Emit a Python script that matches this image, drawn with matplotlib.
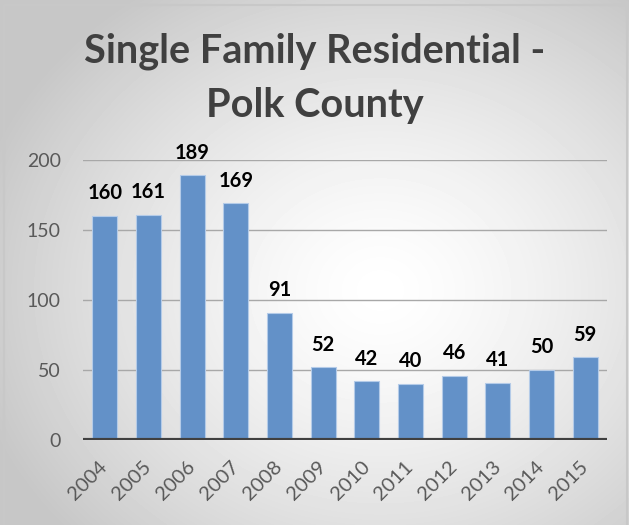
import matplotlib.pyplot as plt
import matplotlib.transforms as mtransforms
import numpy as np

plt.rcParams['font.family'] = ['Lato', 'DejaVu Sans']

years = ['2004', '2005', '2006', '2007', '2008', '2009',
         '2010', '2011', '2012', '2013', '2014', '2015']
permits = [160, 161, 189, 169, 91, 52, 42, 40, 46, 41, 50, 59]

fig = plt.figure(figsize=(6.29, 5.25), dpi=100)

# radial gradient background
bg = fig.add_axes([0, 0, 1, 1], zorder=0)
yy, xx = np.mgrid[0:525, 0:629]
r = np.sqrt(((xx - 380) / 420.0) ** 2 + ((yy - 290) / 360.0) ** 2)
shade = 1.0 - 0.22 * np.clip(r, 0, 1) ** 1.4
bg.imshow(shade, cmap='gray', vmin=0, vmax=1, extent=[0, 629, 525, 0], aspect='auto')
bg.plot([4, 4, 627, 627], [524, 5, 5, 524], color='#c8c8c8', lw=1.5)
bg.set_xlim(0, 629)
bg.set_ylim(525, 0)
bg.axis('off')

ax = fig.add_axes([83 / 629, 1 - 440 / 525, 524 / 629, 280 / 525], zorder=1)
ax.patch.set_alpha(0)
x = np.arange(len(years))
bars = ax.bar(x, permits, width=0.57, color='#6391c8', edgecolor='#b4cbe8', linewidth=0.8, zorder=2)

for xi, v in zip(x, permits):
    ax.text(xi, v + 9, str(v), ha='center', va='bottom', fontsize=14.5,
            fontweight='bold', color='black')

ax.set_xlim(-0.5, len(years) - 0.5)
ax.set_ylim(0, 200)
ax.set_yticks([0, 50, 100, 150, 200])
ax.yaxis.grid(True, color='#a8a8a8', linewidth=1)
ax.set_axisbelow(True)
ax.axhline(0, color='#404040', linewidth=3, zorder=3)
for s in ax.spines.values():
    s.set_visible(False)
ax.tick_params(length=0, labelsize=14, colors='#595959')
ax.tick_params(axis='y', pad=16)
ax.set_xticks(x)
ax.set_xticklabels(years, rotation=45, ha='right', rotation_mode='anchor', fontsize=14.5)
ax.tick_params(axis='x', pad=12)
shift = mtransforms.ScaledTranslation(-6 / 100, -1 / 100, fig.dpi_scale_trans)
for lbl in ax.get_xticklabels():
    lbl.set_transform(lbl.get_transform() + shift)

title_color = '#404040'
fig.text(0.5, 1 - 63 / 525, 'Single Family Residential -', ha='center', va='baseline',
         fontsize=28.5, fontweight='bold', color=title_color)
fig.text(0.5, 1 - 117 / 525, 'Polk County', ha='center', va='baseline',
         fontsize=28.5, fontweight='bold', color=title_color)

fig.savefig('out.png', dpi=100)
